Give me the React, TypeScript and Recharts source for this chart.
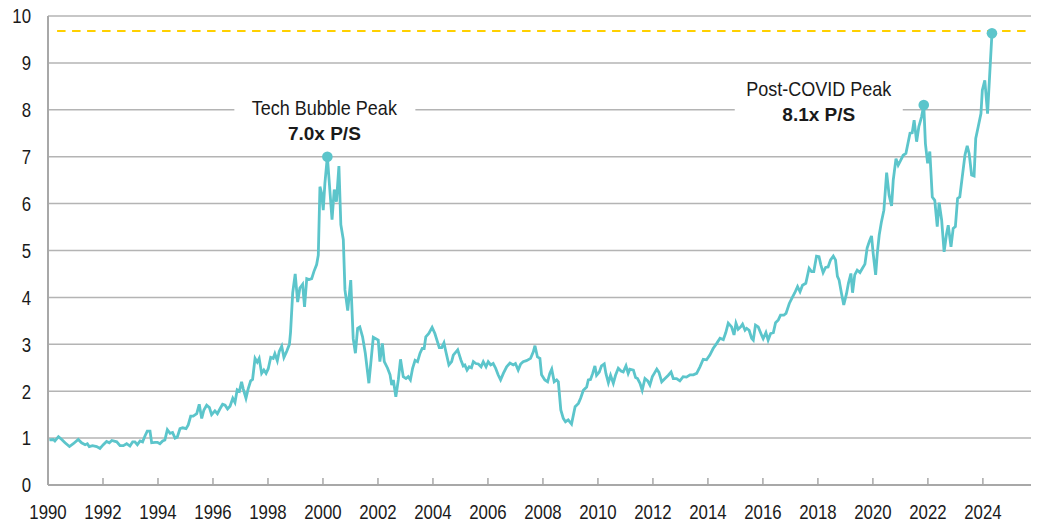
import { LineChart, Line, XAxis, YAxis, CartesianGrid, ReferenceLine, ReferenceDot } from "recharts"

const FONT = "'Liberation Sans', Arial, sans-serif"
const TEAL = "#5cc5cb"
const GOLD = "#ffd000"
const GRID = "#b4b4b4"
const INK = "#1a1a1a"

// [year, price-to-sales]
const ps1990s: [number, number][] = [
  [1990.05, 0.96], [1990.19, 0.97], [1990.25, 0.94], [1990.38, 1.03], [1990.5, 0.97],
  [1990.62, 0.9], [1990.78, 0.82], [1990.92, 0.88], [1991.1, 0.97], [1991.22, 0.9],
  [1991.35, 0.86], [1991.43, 0.88], [1991.5, 0.82], [1991.62, 0.84], [1991.77, 0.82],
  [1991.89, 0.78], [1992.01, 0.86], [1992.13, 0.93], [1992.23, 0.9], [1992.32, 0.95],
  [1992.5, 0.92], [1992.62, 0.84], [1992.74, 0.84], [1992.86, 0.88], [1992.98, 0.83],
  [1993.08, 0.92], [1993.16, 0.92], [1993.25, 0.86], [1993.35, 0.94], [1993.44, 0.92],
  [1993.53, 1.05], [1993.61, 1.15], [1993.71, 1.15], [1993.77, 0.9], [1993.89, 0.91],
  [1993.98, 0.91], [1994.07, 0.88], [1994.17, 0.94], [1994.25, 0.96], [1994.34, 1.18],
  [1994.44, 1.1], [1994.53, 1.12], [1994.62, 1.0], [1994.7, 1.02], [1994.8, 1.2],
  [1994.9, 1.22], [1995.02, 1.2], [1995.1, 1.28], [1995.19, 1.47], [1995.28, 1.47],
  [1995.41, 1.52], [1995.5, 1.72], [1995.59, 1.42], [1995.67, 1.6], [1995.77, 1.7],
  [1995.87, 1.65], [1995.95, 1.5], [1996.07, 1.58], [1996.16, 1.52], [1996.25, 1.62],
  [1996.35, 1.72], [1996.44, 1.7], [1996.53, 1.62], [1996.62, 1.68], [1996.72, 1.85],
  [1996.8, 1.76], [1996.88, 2.03], [1996.96, 2.0], [1997.04, 2.2], [1997.1, 2.05],
  [1997.2, 1.85], [1997.28, 2.05], [1997.37, 2.22], [1997.44, 2.25], [1997.53, 2.7],
  [1997.61, 2.62], [1997.68, 2.7], [1997.77, 2.38], [1997.85, 2.45], [1997.93, 2.38],
  [1998.01, 2.48], [1998.1, 2.72], [1998.19, 2.7], [1998.25, 2.8], [1998.34, 2.65],
  [1998.41, 2.85], [1998.5, 2.96], [1998.58, 2.72], [1998.68, 2.85], [1998.78, 3.0],
  [1998.82, 3.25], [1998.9, 4.1], [1998.99, 4.5], [1999.08, 3.9], [1999.16, 4.2],
  [1999.26, 4.28], [1999.33, 3.8], [1999.41, 4.4], [1999.5, 4.38], [1999.59, 4.4],
  [1999.67, 4.55], [1999.77, 4.7], [1999.83, 4.9], [1999.89, 6.36], [1999.95, 6.22],
]

const ps2000s: [number, number][] = [
  [2000.01, 5.86], [2000.07, 6.43], [2000.16, 7.0], [2000.25, 6.29], [2000.33, 5.66],
  [2000.41, 6.3], [2000.49, 6.04], [2000.58, 6.8], [2000.65, 5.55], [2000.74, 5.23],
  [2000.8, 4.16], [2000.9, 3.72], [2001.01, 4.37], [2001.1, 3.12], [2001.18, 2.81],
  [2001.26, 3.34], [2001.34, 3.37], [2001.44, 3.16], [2001.54, 2.81], [2001.67, 2.17],
  [2001.83, 3.15], [2002.01, 3.09], [2002.07, 2.63], [2002.16, 3.02], [2002.23, 2.63],
  [2002.35, 2.49], [2002.44, 2.35], [2002.5, 2.13], [2002.56, 2.24], [2002.65, 1.88],
  [2002.74, 2.24], [2002.82, 2.68], [2002.92, 2.31], [2003.02, 2.27], [2003.1, 2.31],
  [2003.18, 2.24], [2003.26, 2.49], [2003.35, 2.66], [2003.44, 2.63], [2003.53, 2.81],
  [2003.61, 2.91], [2003.68, 2.91], [2003.74, 3.16], [2003.85, 3.23], [2003.97, 3.36],
  [2004.07, 3.23], [2004.23, 2.93], [2004.32, 2.93], [2004.4, 3.03], [2004.47, 2.84],
  [2004.58, 2.56], [2004.68, 2.63], [2004.74, 2.77], [2004.9, 2.88], [2005.02, 2.66],
  [2005.1, 2.54], [2005.16, 2.56], [2005.24, 2.45], [2005.32, 2.52], [2005.4, 2.5],
  [2005.47, 2.63], [2005.56, 2.59], [2005.65, 2.58], [2005.75, 2.52], [2005.83, 2.63],
  [2005.93, 2.52], [2006.01, 2.63], [2006.1, 2.56], [2006.19, 2.59], [2006.28, 2.49],
  [2006.37, 2.35], [2006.46, 2.24], [2006.56, 2.38], [2006.68, 2.52], [2006.8, 2.6],
  [2006.92, 2.56], [2007.0, 2.59], [2007.1, 2.45], [2007.19, 2.58], [2007.28, 2.63],
  [2007.4, 2.65], [2007.55, 2.7], [2007.65, 2.84], [2007.71, 2.97], [2007.8, 2.73],
  [2007.89, 2.7], [2007.95, 2.35], [2008.07, 2.24], [2008.17, 2.2], [2008.25, 2.38],
  [2008.32, 2.47], [2008.41, 2.2], [2008.5, 2.24], [2008.56, 2.2], [2008.65, 1.6],
  [2008.74, 1.42], [2008.82, 1.35], [2008.92, 1.39], [2009.04, 1.3], [2009.17, 1.67],
  [2009.29, 1.74], [2009.37, 1.85], [2009.47, 2.02], [2009.59, 2.09], [2009.65, 2.24],
  [2009.73, 2.25], [2009.81, 2.38], [2009.89, 2.54], [2009.95, 2.34],
]

const ps2010s: [number, number][] = [
  [2010.05, 2.41], [2010.13, 2.54], [2010.23, 2.58], [2010.29, 2.38], [2010.38, 2.18],
  [2010.46, 2.34], [2010.56, 2.17], [2010.64, 2.34], [2010.74, 2.49], [2010.84, 2.43],
  [2010.92, 2.41], [2011.02, 2.54], [2011.1, 2.38], [2011.16, 2.47], [2011.29, 2.45],
  [2011.37, 2.29], [2011.44, 2.27], [2011.53, 2.17], [2011.61, 2.02], [2011.71, 2.27],
  [2011.81, 2.22], [2011.89, 2.13], [2011.98, 2.31], [2012.05, 2.38], [2012.14, 2.47],
  [2012.22, 2.4], [2012.32, 2.2], [2012.44, 2.27], [2012.56, 2.34], [2012.66, 2.41],
  [2012.74, 2.27], [2012.86, 2.27], [2012.98, 2.22], [2013.1, 2.31], [2013.22, 2.3],
  [2013.35, 2.35], [2013.47, 2.35], [2013.59, 2.38], [2013.71, 2.52], [2013.83, 2.68],
  [2013.95, 2.67], [2014.07, 2.77], [2014.19, 2.91], [2014.32, 3.02], [2014.44, 3.13],
  [2014.56, 3.1], [2014.65, 3.25], [2014.74, 3.45], [2014.86, 3.37], [2014.95, 3.2],
  [2015.02, 3.45], [2015.1, 3.32], [2015.19, 3.37], [2015.26, 3.43], [2015.35, 3.3],
  [2015.41, 3.34], [2015.5, 3.3], [2015.59, 3.13], [2015.65, 3.09], [2015.73, 3.41],
  [2015.83, 3.37], [2015.95, 3.2], [2016.01, 3.12], [2016.11, 3.25], [2016.19, 3.09],
  [2016.28, 3.23], [2016.38, 3.25], [2016.46, 3.46], [2016.56, 3.52], [2016.64, 3.62],
  [2016.76, 3.62], [2016.84, 3.66], [2016.96, 3.87], [2017.07, 4.0], [2017.16, 4.1],
  [2017.26, 4.23], [2017.35, 4.12], [2017.44, 4.26], [2017.56, 4.3], [2017.68, 4.62],
  [2017.77, 4.55], [2017.85, 4.55], [2017.95, 4.88], [2018.04, 4.87], [2018.11, 4.69],
  [2018.19, 4.53], [2018.28, 4.64], [2018.37, 4.65], [2018.46, 4.8], [2018.56, 4.88],
  [2018.64, 4.8], [2018.71, 4.45], [2018.77, 4.37], [2018.86, 4.08], [2018.94, 3.84],
  [2019.04, 4.08], [2019.11, 4.3], [2019.2, 4.51], [2019.26, 4.1], [2019.34, 4.48],
  [2019.43, 4.58], [2019.53, 4.53], [2019.62, 4.62], [2019.71, 4.71], [2019.79, 5.05],
  [2019.87, 5.19], [2019.95, 5.31],
]

const ps2020s: [number, number][] = [
  [2020.01, 4.94], [2020.1, 4.48], [2020.16, 4.94], [2020.23, 5.33], [2020.31, 5.61],
  [2020.4, 5.86], [2020.5, 6.66], [2020.59, 6.18], [2020.68, 5.95], [2020.74, 6.5],
  [2020.84, 6.96], [2020.92, 6.82], [2021.0, 6.91], [2021.1, 7.03], [2021.2, 7.07],
  [2021.35, 7.5], [2021.43, 7.51], [2021.5, 7.78], [2021.59, 7.32], [2021.67, 7.64],
  [2021.77, 7.85], [2021.85, 8.1], [2021.91, 7.28], [2021.99, 6.86], [2022.07, 7.11],
  [2022.16, 6.14], [2022.25, 6.07], [2022.34, 5.51], [2022.41, 6.02], [2022.5, 5.65],
  [2022.59, 4.97], [2022.68, 5.36], [2022.74, 5.54], [2022.84, 5.08], [2022.92, 5.47],
  [2023.0, 5.51], [2023.08, 6.11], [2023.16, 6.14], [2023.25, 6.57], [2023.35, 7.04],
  [2023.43, 7.23], [2023.5, 7.07], [2023.59, 6.61], [2023.68, 6.59], [2023.74, 7.39],
  [2023.83, 7.64], [2023.93, 7.92], [2023.98, 8.42], [2024.07, 8.63], [2024.17, 7.92],
  [2024.33, 9.63],
]

const yearTicks = [1990, 1992, 1994, 1996, 1998, 2000, 2002, 2004, 2006, 2008, 2010, 2012, 2014, 2016, 2018, 2020, 2022, 2024]
const psTicks = [0, 1, 2, 3, 4, 5, 6, 7, 8, 9, 10]

const peaks = [
  { year: 2000.16, ps: 7.0, title: "Tech Bubble Peak", note: "7.0x P/S" },
  { year: 2021.85, ps: 8.1, title: "Post-COVID Peak", note: "8.1x P/S" },
]
const latest = { year: 2024.33, ps: 9.63 }
const currentLevel = 9.68

const data = [...ps1990s, ...ps2000s, ...ps2010s, ...ps2020s].map(([year, ps]) => ({ year, ps }))

// label block sits above / left of its dot
const notePlacement = [
  { dx: -3, dy: -49, boxLeft: -93, boxRight: 88, boxTop: -61, boxBottom: -12 },
  { dx: -105, dy: -16, boxLeft: -189, boxRight: -21, boxTop: -29, boxBottom: 21 },
]

// narrow look: Liberation Sans squeezed horizontally
function YearTick({ x, y, payload }: any) {
  return (
    <g transform={`translate(${x},${y})`}>
      <text transform="scale(0.82,1)" textAnchor="middle" dy="0.71em" fontFamily={FONT} fontSize={20.5} fill={INK}>
        {payload.value}
      </text>
    </g>
  )
}

function PsTick({ x, y, payload }: any) {
  return (
    <g transform={`translate(${x},${y})`}>
      <text transform="scale(0.82,1)" textAnchor="end" dy="0.36em" fontFamily={FONT} fontSize={20.5} fill={INK}>
        {payload.value}
      </text>
    </g>
  )
}

function PeakNote(props: any) {
  const { viewBox, title, note, place } = props
  const cx = viewBox.x + viewBox.width / 2
  const cy = viewBox.y + viewBox.height / 2
  const tx = cx + place.dx
  const ty = cy + place.dy
  return (
    <g>
      <rect
        x={cx + place.boxLeft}
        y={cy + place.boxTop}
        width={place.boxRight - place.boxLeft}
        height={place.boxBottom - place.boxTop}
        fill="#fff"
      />
      <g transform={`translate(${tx},${ty})`}>
        <text transform="scale(0.9,1)" textAnchor="middle" dy="0.36em" fontFamily={FONT} fontSize={20} fill={INK}>
          {title}
        </text>
        <text y={25} textAnchor="middle" dy="0.36em" fontFamily={FONT} fontSize={19} fontWeight="bold" fill={INK}>
          {note}
        </text>
      </g>
    </g>
  )
}

export default function App() {
  return (
    <div style={{ position: "absolute", left: 0, top: 0, width: 1037, height: 525, background: "#fff" }}>
      <LineChart width={1037} height={525} data={data} margin={{ top: 16, right: 6, left: 0, bottom: 0 }}>
        <CartesianGrid vertical={false} stroke={GRID} strokeWidth={1.5} />
        <XAxis
          dataKey="year"
          type="number"
          domain={[1990, 2025.75]}
          ticks={yearTicks}
          interval={0}
          height={40}
          axisLine={{ stroke: "#a8a8a8", strokeWidth: 2 }}
          tickLine={{ stroke: "#a8a8a8", strokeWidth: 1.5 }}
          tickSize={-7}
          tickMargin={26}
          tick={<YearTick />}
        />
        <YAxis
          domain={[0, 10]}
          ticks={psTicks}
          interval={0}
          width={48}
          axisLine={{ stroke: "#a8a8a8", strokeWidth: 2 }}
          tickLine={false}
          tickSize={0}
          tickMargin={17}
          tick={<PsTick />}
        />
        <YAxis yAxisId="right" orientation="right" width={0} tick={false} tickLine={false}
          axisLine={{ stroke: GRID, strokeWidth: 1.5 }} />
        <ReferenceLine
          segment={[{ x: 1990.33, y: currentLevel }, { x: 2025.75, y: currentLevel }]}
          stroke={GOLD}
          strokeWidth={2}
          strokeDasharray="8.5 6.5"
        />
        <Line
          type="linear"
          dataKey="ps"
          stroke={TEAL}
          strokeWidth={2.8}
          dot={false}
          activeDot={false}
          isAnimationActive={false}
        />
        {peaks.map((p, i) => (
          <ReferenceDot
            key={p.title}
            x={p.year}
            y={p.ps}
            r={5.3}
            fill={TEAL}
            stroke="none"
            label={(lp: any) => <PeakNote {...lp} title={p.title} note={p.note} place={notePlacement[i]} />}
          />
        ))}
        <ReferenceDot x={latest.year} y={latest.ps} r={5.3} fill={TEAL} stroke="none" />
      </LineChart>
    </div>
  )
}
